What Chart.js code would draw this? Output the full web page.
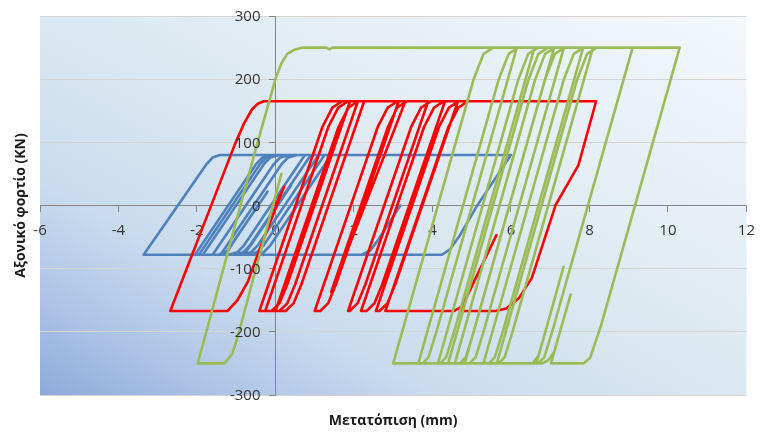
<!DOCTYPE html>
<html>
<head>
<meta charset="utf-8">
<script src="https://cdn.jsdelivr.net/npm/chart.js@4.4.1/dist/chart.umd.min.js"></script>
<style>
    html, body { margin: 0; padding: 0; background: #ffffff; }
    #hysteresisChart { display: block; }
</style>
</head>
<body>
<canvas id="hysteresisChart" width="765" height="432"></canvas>
<script>
// Displacement (mm) / axial load (kN) traces
const blueX = [3.18, 2.6, 2.42, 2.2, -0.8, 0.4, -0.63, -0.8, -1.03, -2.05, -0.5, -0.33, -0.1, 0.75, -0.8, -0.97, -1.2,
    -1.95, -0.4, -0.23, 0, 1.1, -0.45, -0.62, -0.85, -1.85, -0.3, -0.13, 0.1, 1.42, -0.13, -0.3, -0.53,
    -1.6, -0.05, 0.12, 0.35, 0.9, -0.65, -0.82, -1.05, -1.4, 0.15, 0.32, 0.55, 1.25, -0.3, -0.47, -0.7,
    -1.3, -0.2, -1.05, -1.2, -1.45, -3.36, -1.75, -1.6, -1.42, 6.0, 5.15, 4.7, 4.44, 4.24, 2.2];
const blueY = [0, -56, -71, -78, -78, 32, -63, -74, -78, -78, 65, 76, 80, 80, -63, -74, -78,
    -78, 65, 76, 80, 80, -63, -74, -78, -78, 65, 76, 80, 80, -63, -74, -78,
    -78, 65, 76, 80, 80, -63, -74, -78, -78, 65, 76, 80, 80, -63, -74, -78,
    -78, 22, -56, -71, -78, -78, 66, 76, 80, 80, 1, -47, -70, -78, -78];

const redX = [0, 0.22, -0.42, -0.7, -0.97, -1.22, -2.68, -1.04, -0.8, -0.6, -0.45, -0.3,
    1.9, 0.3, 0.1, -0.1, -0.41, 1.2, 1.45, 1.7,
    2.1, 0.5, 0.3, 0.1, -0.26, 1.35, 1.6, 1.85,
    2.26, 0.66, 0.46, 0.26, 0, 1.61, 1.86, 2.1,
    3.14, 1.54, 1.34, 1.14, 1.0, 2.61, 2.86, 3.11,
    3.31, 1.42, 2.87, 3.1, 3.35,
    3.89, 2.29, 2.09, 1.89, 1.85, 3.46, 3.71, 3.96,
    4.32, 2.72, 2.52, 2.32, 2.18, 3.79, 4.04, 4.29,
    4.65, 3.05, 2.85, 2.65, 2.56, 4.17, 4.42, 4.67,
    8.17, 7.72, 7.14, 6.53, 6.2, 5.88, 5.6, 4.7, 5.63, 4.75, 4.55, 2.8, 4.41, 4.66, 4.9];
const redY = [0, 30, -72, -120, -150, -167, -167, 96, 130, 152, 161, 165,
    165, -125, -155, -167, -167, 125, 155, 165,
    165, -125, -155, -167, -167, 125, 155, 165,
    165, -125, -155, -167, -167, 125, 155, 165,
    165, -125, -155, -167, -167, 125, 155, 165,
    165, -137, 125, 155, 165,
    165, -125, -155, -167, -167, 125, 155, 165,
    165, -125, -155, -167, -167, 125, 155, 165,
    165, -125, -155, -167, -167, 125, 155, 165,
    165, 64, 1, -115, -147, -163, -167, -167, -47, -160, -167, -167, 125, 155, 165];

const greenX = [0.15, -0.95, -1.1, -1.3, -1.98, -0.5, 0, 0.15, 0.3, 0.5, 0.7, 1.3, 1.37, 1.45,
    6.15, 4.1, 3.9, 3.75, 3.0, 5.05, 5.3, 5.55,
    6.6, 4.55, 4.35, 4.2, 3.64, 5.69, 5.94, 6.19,
    7.1, 5.05, 4.85, 4.7, 4.14, 6.19, 6.44, 6.69,
    7.35, 5.3, 5.1, 4.95, 4.4, 6.45, 6.7, 6.95,
    7.84, 5.79, 5.59, 5.44, 4.57, 6.62, 6.87, 7.12,
    8.09, 6.04, 5.84, 5.69, 4.82, 6.87, 7.12, 7.37,
    9.1, 7.05, 6.85, 6.7, 5.3, 7.35, 7.6, 7.85,
    10.3, 8.3, 8.02, 7.85, 7.02, 7.52, 7.1, 6.95, 6.8, 6.65, 7.34, 6.9, 6.7, 6.55,
    5.64, 7.69, 7.94, 8.19];
const greenY = [50, -205, -235, -250, -250, 90, 200, 225, 240, 247, 250, 250, 247, 250,
    250, -200, -240, -250, -250, 200, 240, 250,
    250, -200, -240, -250, -250, 200, 240, 250,
    250, -200, -240, -250, -250, 200, 240, 250,
    250, -200, -240, -250, -250, 200, 240, 250,
    250, -200, -240, -250, -250, 200, 240, 250,
    250, -200, -240, -250, -250, 200, 240, 250,
    250, -200, -240, -250, -250, 200, 240, 250,
    250, -189, -241, -250, -250, -141, -232, -245, -250, -250, -97, -195, -238, -250,
    -250, 200, 240, 250];

const xTicks = { min: -6, max: 12, step: 2 };
const yTicks = { min: -300, max: 300, step: 100 };
const xTitle = 'Μετατόπιση (mm)';
const yTitle = 'Αξονικό φορτίο (KN)';

function toPoints(xs, ys) {
    return xs.map((x, i) => ({ x: x, y: ys[i] }));
}

function traceDataset(xs, ys, color, order) {
    return {
        data: toPoints(xs, ys),
        showLine: true,
        borderColor: color,
        borderWidth: 2.6,
        pointRadius: 0,
        tension: 0,
        fill: false,
        borderJoinStyle: 'round',
        borderCapStyle: 'round',
        order: order
    };
}

const tickFont = '15px "Open Sans"';
const tickColor = '#333333';
const axisGray = '#868686';

// White page + Excel-like blue gradient inside the plot area
const backgroundPlugin = {
    id: 'plotBackground',
    beforeDraw(chart) {
        const { ctx, chartArea: a, width, height } = chart;
        ctx.save();
        ctx.fillStyle = '#ffffff';
        ctx.fillRect(0, 0, width, height);

        const w = a.right - a.left;
        const h = a.bottom - a.top;
        const k = 2 * w * h / (w * w + h * h);
        const grad = ctx.createLinearGradient(a.left, a.bottom, a.left + h * k, a.bottom - w * k);
        grad.addColorStop(0, '#8eaadb');
        grad.addColorStop(0.12, '#abc2e5');
        grad.addColorStop(0.28, '#c9dbee');
        grad.addColorStop(0.5, '#dbe8f1');
        grad.addColorStop(1, '#f4f8fb');
        ctx.fillStyle = grad;
        ctx.fillRect(a.left, a.top, w, h);
        ctx.restore();
    }
};

// Chart.js puts centred y labels flush on the axis, so draw them with a gap
const yLabelsPlugin = {
    id: 'yLabels',
    afterDraw(chart) {
        const { ctx, scales } = chart;
        const xAxis = scales.x.getPixelForValue(0);
        ctx.save();
        ctx.fillStyle = tickColor;
        ctx.font = tickFont;
        ctx.textAlign = 'right';
        ctx.textBaseline = 'middle';
        scales.y.ticks.forEach(t => {
            ctx.fillText(String(t.value), xAxis - 15, scales.y.getPixelForValue(t.value) + 1);
        });
        ctx.restore();
    }
};

// Axis titles sit at the outer edges, not next to the centred axes
const titlesPlugin = {
    id: 'axisTitles',
    afterDraw(chart) {
        const { ctx, chartArea: a } = chart;
        ctx.save();
        ctx.fillStyle = '#1a1a1a';
        ctx.font = 'bold 14px "Open Sans"';
        ctx.textAlign = 'center';
        ctx.textBaseline = 'middle';
        ctx.fillText(xTitle, (a.left + a.right) / 2, 421);

        ctx.translate(21, (a.top + a.bottom) / 2);
        ctx.rotate(-Math.PI / 2);
        ctx.fillText(yTitle, 0, 0);
        ctx.restore();
    }
};

new Chart(document.getElementById('hysteresisChart'), {
    type: 'scatter',
    data: {
        datasets: [
            traceDataset(blueX, blueY, '#4f81bd', 3),
            traceDataset(redX, redY, '#ff0000', 2),
            traceDataset(greenX, greenY, '#9bbb59', 1)
        ]
    },
    options: {
        responsive: false,
        animation: false,
        devicePixelRatio: 1,
        layout: { padding: { left: 40, right: 10, top: 16, bottom: 37 } },
        plugins: {
            legend: { display: false },
            tooltip: { enabled: false }
        },
        scales: {
            x: {
                type: 'linear',
                min: xTicks.min,
                max: xTicks.max,
                position: { y: 0 },
                ticks: { stepSize: xTicks.step, color: tickColor, font: { family: 'Open Sans', size: 15 }, padding: 10 },
                grid: { drawOnChartArea: false, drawTicks: true, tickLength: 6, tickColor: axisGray },
                border: { color: axisGray, width: 1 }
            },
            y: {
                type: 'linear',
                min: yTicks.min,
                max: yTicks.max,
                position: { x: 0 },
                ticks: { stepSize: yTicks.step, display: false },
                grid: {
                    color: (c) => (c.tick && c.tick.value === 0 ? 'rgba(0,0,0,0)' : '#d4d4d4'),
                    lineWidth: 1,
                    drawTicks: true,
                    tickLength: 6,
                    tickColor: axisGray
                },
                border: { color: axisGray, width: 1 }
            }
        }
    },
    plugins: [backgroundPlugin, yLabelsPlugin, titlesPlugin]
});
</script>
</body>
</html>
